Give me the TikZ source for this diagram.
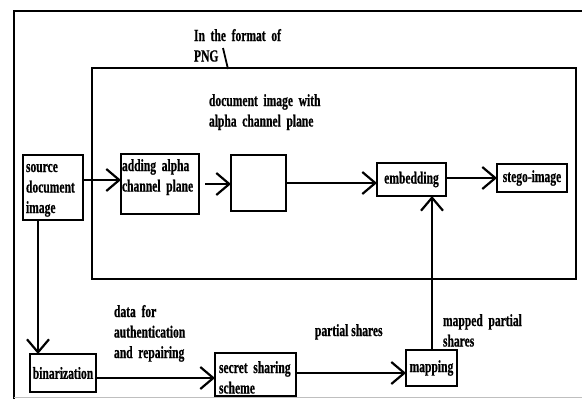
\documentclass[tikz,border=0pt]{standalone}
\usepackage{fontspec}
\setmainfont{Liberation Serif}[FakeStretch=0.68, BoldFeatures={FakeBold=0.6}]
\usetikzlibrary{arrows.meta}

\tikzset{
  x=1pt, y=-1pt,
  txt/.style={font=\fontsize{17}{20.5}\selectfont\bfseries, inner sep=0pt, outer sep=0pt},
  box/.style={draw, line width=2.8pt, txt},
  frameline/.style={line width=2.8pt},
  arr/.style={line width=2pt, -{Straight Barb[length=13pt,width=22pt,line width=2.2pt]}},
}

\begin{document}
\begin{tikzpicture}
\useasboundingbox (0,0) rectangle (582,399);

% outer frame and bottom rule
\coordinate (fbl) at (14,399);
\coordinate (ftl) at (14,11);
\coordinate (ftr) at (582,11);
\draw[frameline] (fbl) -- (ftl) -- (ftr);
\coordinate (gl) at (14,397);
\coordinate (gr) at (582,397);
\draw[black!25, line width=1pt] (gl) -- (gr);

% PNG container
\node[box, anchor=north west, minimum width=484pt, minimum height=211pt] (png) at (92,68) {};
\node[txt, anchor=base west, text width=120pt, align=left] (fmt) at (194,41) {In the format of\\PNG};
\coordinate (tk1) at (223,48);
\coordinate (tk2) at (228,69);
\draw[line width=1.8pt] (tk1) -- (tk2);
\node[txt, anchor=base west, text width=140pt, align=left] (docimg) at (209,106) {document image with\\alpha channel plane};

% processing boxes
\node[box, anchor=north west, inner xsep=3pt, text width=54pt, text height=17pt, text depth=48pt, align=left] (src) at (23,155) {source\\document\\image};
\node[box, anchor=north west, inner xsep=1pt, text width=76pt, text height=17pt, text depth=43pt, align=left] (add) at (121,154) {adding alpha\\channel plane};
\node[box, anchor=north west, minimum width=55pt, minimum height=56pt] (emp) at (231,155) {};
\node[box, minimum width=69pt, minimum height=33pt] (emb) at (411.5,179.5) {embedding};
\node[box, minimum width=70pt, minimum height=28pt] (stego) at (532,178) {stego-image};
\node[box, minimum width=66pt, minimum height=38pt] (bin) at (63,373) {binarization};
\node[box, anchor=north west, inner xsep=4pt, text width=73pt, text height=20pt, text depth=23pt, align=left] (sss) at (215,353) {secret sharing\\scheme};
\node[box, minimum width=51pt, minimum height=36pt] (map) at (431.5,368) {mapping};

% connector labels
\node[txt, anchor=base west, text width=100pt, align=left] (dlab) at (114,317) {data for\\authentication\\and repairing};
\node[txt, anchor=base west] (plab) at (315,336) {partial shares};
\node[txt, anchor=base west, text width=100pt, align=left] (mlab) at (443,326) {mapped partial\\shares};

% connectors
\draw[arr] (src.east |- 0,180) -- (add.west |- 0,180);
\coordinate (addout) at (205,184);
\draw[arr] (addout) -- (emp.west |- addout);
\draw[arr] (emp.east |- 0,183) -- (emb.west |- 0,183);
\draw[arr] (emb.east |- 0,178) -- (stego.west |- 0,178);
\draw[arr] (src.south -| 38,0) -- (bin.north -| 38,0);
\draw[arr] (bin.east |- 0,378) -- (sss.west |- 0,378);
\draw[arr] (sss.east |- 0,373) -- (map.west |- 0,373);
\draw[arr] (map.north -| 432,0) -- (emb.south -| 432,0);
\end{tikzpicture}
\end{document}
